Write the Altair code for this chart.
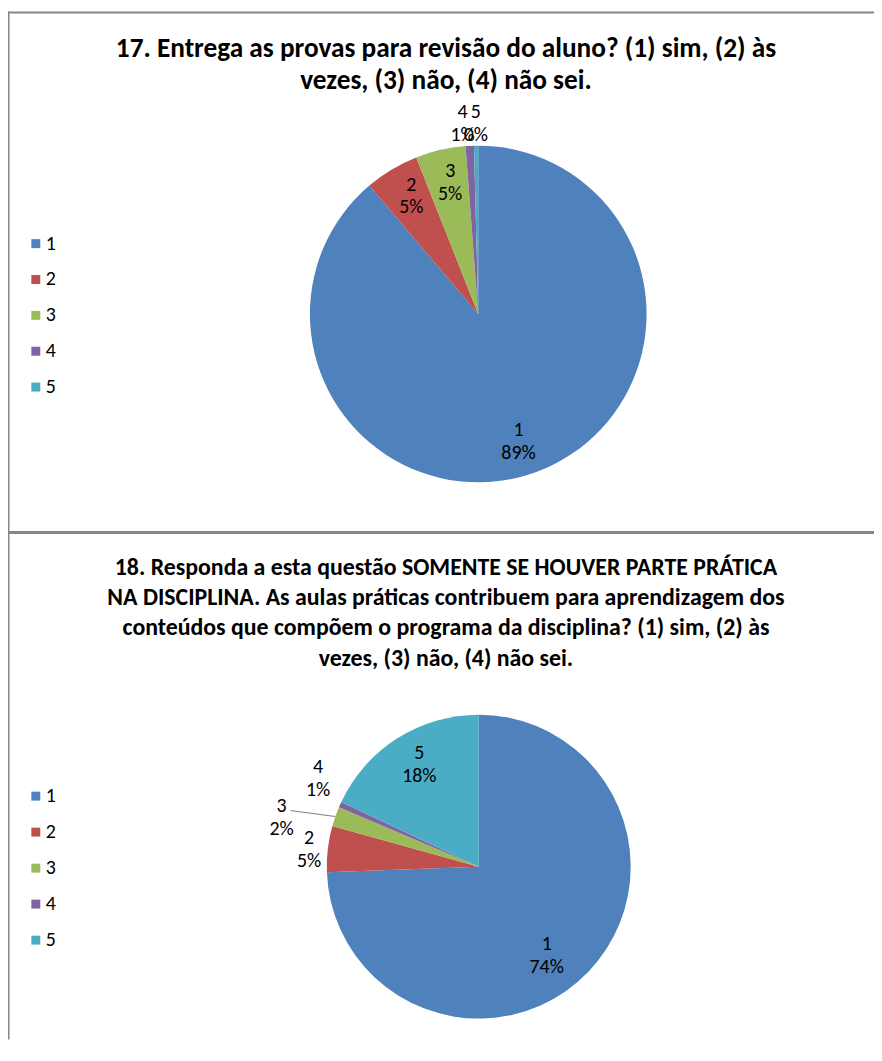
import altair as alt
import pandas as pd

categories = ["1", "2", "3", "4", "5"]
q17_values = [88.8, 5.2, 4.8, 0.8, 0.4]
q18_values = [74.4, 4.9, 2.1, 0.6, 18.0]
colors = ["#4F81BD", "#C0504D", "#9BBB59", "#8064A2", "#4BACC6"]
title17 = ["17. Entrega as provas para revisão do aluno? (1) sim, (2) às",
           "vezes, (3) não, (4) não sei."]
title18 = ["18. Responda a esta questão SOMENTE SE HOUVER PARTE PRÁTICA",
           "NA DISCIPLINA. As aulas práticas contribuem para aprendizagem dos",
           "conteúdos que compõem o programa da disciplina? (1) sim, (2) às",
           "vezes, (3) não, (4) não sei."]

FONT = "Carlito"
W, H = 872, 1035
color_scale = alt.Scale(domain=categories, range=colors)
theta_scale = alt.Scale(domain=[0, 100])
one = alt.Data(values=[{"a": 1}])


def pie_layers(values, cx, cy, r, label_cfg, legend_range, leader=None):
    df = pd.DataFrame({"cat": categories, "value": values})
    base = alt.Chart(df)
    layers = [
        base.mark_arc(radius=r).encode(
            theta=alt.Theta("value:Q", stack=True, scale=theta_scale),
            color=alt.Color("cat:N", scale=color_scale, legend=None),
            order=alt.Order("cat:N"),
            x=alt.value(cx), y=alt.value(cy),
        )
    ]
    lab = base.transform_window(
        cum="sum(value)", sort=[alt.SortField("cat")], frame=[None, 0]
    ).transform_calculate(
        mid="datum.cum - datum.value/2",
        label="[datum.cat, format(datum.value/100, '.0%')]",
    )
    for cat, (rad, dx, dy) in label_cfg.items():
        layers.append(
            lab.transform_filter(alt.datum.cat == cat).mark_text(
                radius=rad, dx=dx, dy=dy - 11.5, font=FONT, fontSize=20, lineHeight=23,
                color="#000000", baseline="middle", align="center",
            ).encode(
                theta=alt.Theta("mid:Q", scale=theta_scale),
                text="label:N",
                x=alt.value(cx), y=alt.value(cy),
            )
        )
    if leader is not None:
        cat, lx, ly = leader
        layers.append(
            lab.transform_filter(alt.datum.cat == cat).transform_calculate(
                xe=f"{cx} + {r}*sin(2*PI*datum.mid/100)",
                ye=f"{cy} - {r}*cos(2*PI*datum.mid/100)",
            ).transform_calculate(
                xs=f"datum.xe + ({lx})", ys=f"datum.ye + ({ly})"
            ).mark_rule(color="#7f7f7f", strokeWidth=1).encode(
                x=alt.X("xs:Q", scale=None, axis=None), x2="xe:Q",
                y=alt.Y("ys:Q", scale=None, axis=None), y2="ye:Q",
            )
        )
    ly = alt.Y("cat:N", scale=alt.Scale(type="point", range=legend_range, padding=0), axis=None)
    layers.append(
        base.mark_square(size=81, opacity=1).encode(
            x=alt.value(28), y=ly,
            color=alt.Color("cat:N", scale=color_scale, legend=None),
        )
    )
    layers.append(
        base.mark_text(align="left", baseline="middle", font=FONT, fontSize=20,
                       color="#000000").encode(x=alt.value(38), y=ly, text="cat:N")
    )
    return layers


def title_layer(lines, y_first, size, lh):
    return alt.Chart(one).mark_text(
        text=lines, font=FONT, fontSize=size, fontWeight="bold", lineHeight=lh,
        baseline="middle", align="center", color="#000000",
    ).encode(x=alt.value(441), y=alt.value(y_first))


def rule(x, x2, y, y2, w):
    return alt.Chart(one).mark_rule(color="#868686", strokeWidth=w).encode(
        x=alt.value(x), x2=alt.value(x2), y=alt.value(y), y2=alt.value(y2))


borders = [
    rule(0, W, 1, 1, 2),
    rule(0.5, 0.5, 0, H, 2),
    rule(0, W, 524.5, 524.5, 3),
]

pie1 = pie_layers(
    q17_values, 473.5, 304.5, 169.5,
    {"1": (135, -6, 2), "2": (135, 2, -3), "3": (135, 2, -1),
     "4": (193, -6, 1), "5": (193, 0, 1)},
    [233.7, 378.1],
)
pie2 = pie_layers(
    q18_values, 474, 861, 153,
    {"1": (113, -13, 11), "2": (172, 0, 3), "3": (205, -5, 18),
     "4": (185, 7, -13), "5": (119, 4, -2)},
    [790, 935],
    leader=("3", -45, -6),
)

chart = alt.layer(
    *borders,
    title_layer(title17, 38, 27.5, 32),
    *pie1,
    title_layer(title18, 560, 24, 30.5),
    *pie2,
).resolve_scale(y="independent", x="independent").properties(
    width=W, height=H, padding=0, autosize=alt.AutoSizeParams(type="none"),
    background="white",
).configure_view(stroke=None)

chart.save("out.html", embed_options={"renderer": "svg", "actions": False})
